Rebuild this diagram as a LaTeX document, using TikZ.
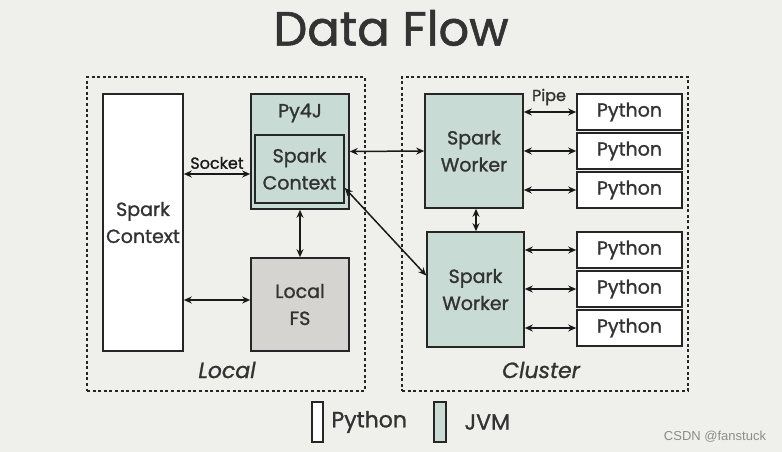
\documentclass[tikz,border=0pt]{standalone}
\usepackage{fontspec}
\setmainfont{Poppins}[UprightFeatures={FakeBold=1.2},ItalicFeatures={FakeBold=1}]
\newfontfamily\markfont{Liberation Sans}
\usetikzlibrary{arrows.meta}
\definecolor{bgc}{HTML}{EFEFEB}
\definecolor{jvmc}{HTML}{C8DCD5}
\definecolor{fsc}{HTML}{D5D4D0}
\definecolor{inkc}{HTML}{333333}
\begin{document}
\begin{tikzpicture}[x=1pt, y=-1pt, text=inkc,
  box/.style={draw=black!85,line width=1.6pt,inner sep=0pt,align=center,
    font=\fontsize{19}{27}\selectfont},
  jvm/.style={box,fill=jvmc}, py/.style={box,fill=white},
  frame/.style={draw=black!85,line width=1.8pt,dash pattern=on 3pt off 2.6pt,inner sep=0pt},
  link/.style={line width=1.5pt,black!90,{Stealth[length=8pt,width=7pt]}-{Stealth[length=8pt,width=7pt]}},
  lbl/.style={font=\fontsize{16}{18}\selectfont}]
\fill[bgc] (0,0) rectangle (782,452);
\node[font=\fontsize{48}{56}\selectfont,text=black!80] (title) at (391,28) {Data Flow};
% local side
\node[frame,minimum width=278,minimum height=314] (local) at (226,234) {};
\node[py,minimum width=80,minimum height=257] (ctxL) at (143,222.5) {Spark\\Context};
\node[jvm,minimum width=98,minimum height=115] (py4j) at (300,151.5) {};
\node[font=\fontsize{19}{24}\selectfont] at (300,113) {Py4J};
\node[jvm,minimum width=89,minimum height=68] (ctxR) at (299.5,169) {Spark\\Context};
\node[box,fill=fsc,minimum width=98,minimum height=93] (fs) at (300,304.5) {Local\\FS};
\node[font=\fontsize{22}{28}\selectfont\itshape] at (227,370) {Local};
% cluster side
\node[frame,minimum width=286,minimum height=314] (cluster) at (545,234) {};
\node[jvm,minimum width=98,minimum height=114] (w1) at (474,151) {Spark\\Worker};
\node[jvm,minimum width=97,minimum height=115] (w2) at (475.5,289.5) {Spark\\Worker};
\foreach \n/\y in {1/112,2/151,3/190,4/250,5/289,6/328}
  \node[py,minimum width=105,minimum height=36] (p\n) at (629.5,\y) {Python};
\node[font=\fontsize{22}{28}\selectfont\itshape] at (541,370) {Cluster};
% connectors
\draw[link] (ctxL.east |- 0,174) -- node[lbl,above=1pt] {Socket} (py4j.west |- 0,174);
\draw[link] ([yshift=4.5pt]fs.west -| ctxL.east) -- ([yshift=4.5pt]fs.west);
\draw[link] (py4j.south) -- (fs.north);
\draw[link] (py4j.east) -- (w1.west);
\draw[link] ([yshift=-19pt]ctxR.east) -- ([yshift=14pt]w2.west);
\draw[link] (w1.south -| 476,0) -- (w2.north -| 476,0);
\foreach \n in {1,2,3}
  \draw[link] (w1.east |- p\n.west) -- (p\n.west);
\foreach \n in {4,5,6}
  \draw[link] (w2.east |- p\n.west) -- (p\n.west);
\node[lbl] at (549,97) {Pipe};
% legend
\node[py,minimum width=11,minimum height=40] (legPy) at (317.5,422) {};
\node[anchor=west,font=\fontsize{22}{28}\selectfont] at (328,422) {Python};
\node[jvm,minimum width=12,minimum height=40] (legJvm) at (440,422) {};
\node[anchor=west,font=\fontsize{22}{28}\selectfont] at (461,422) {JVM};
\node[font=\markfont\fontsize{13}{15}\selectfont,text=black!45] at (715,437) {CSDN @fanstuck};
\end{tikzpicture}
\end{document}
